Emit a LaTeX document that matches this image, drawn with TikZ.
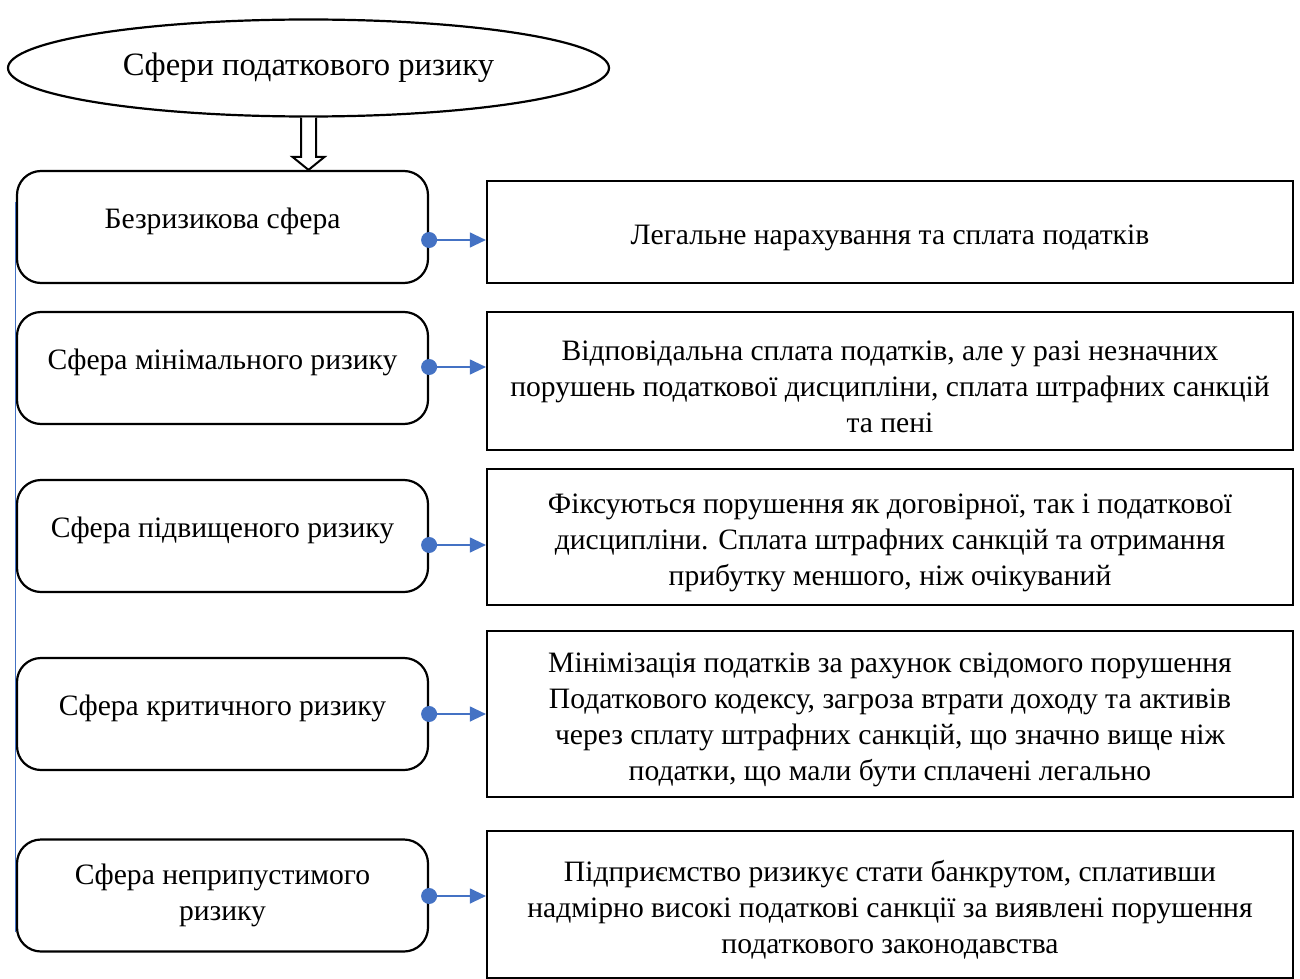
\documentclass[tikz,border=0pt]{standalone}
\usepackage{fontspec}
\setmainfont{Liberation Serif}
\usetikzlibrary{arrows.meta,shapes.geometric,calc}
\definecolor{linkblue}{HTML}{4472C4}
\definecolor{textdark}{HTML}{000000}

\begin{document}
\begin{tikzpicture}[x=0.5pt,y=-0.5pt,font=\fontsize{14.8}{18}\selectfont,text=textdark,
  sphere/.style={draw,line width=1.1pt,rounded corners=12pt,align=center,
    minimum width=205.5pt,minimum height=56pt,inner sep=2pt},
  outcome/.style={draw,line width=1.1pt,align=center,minimum width=403pt,inner sep=2pt},
  link/.style={linkblue,line width=0.6pt,-{Triangle[length=8pt,width=7.5pt]}},
  hollow/.style={draw,line width=1pt,fill=white}]
  \useasboundingbox (0,0) rectangle (1300,979);

  \node[draw,ellipse,line width=1.1pt,minimum width=300.5pt,minimum height=48.5pt,
    font=\fontsize{16.3}{19}\selectfont]
    (top) at (308.5,68) {Сфери податкового ризику};

  \foreach \i/\ly/\dep/\ry/\rh/\dy/\ltext/\rtext in {
    1/227/9.2/232/102/240/{Безризикова сфера}/{Легальне нарахування та сплата податків},
    2/368/9.2/381/138/367/{Сфера мінімального ризику}/{Відповідальна сплата податків, але у разі незначних\\порушень податкової дисципліни, сплата штрафних санкцій\\та пені},
    3/536/9.2/537/136/545/{Сфера підвищеного ризику}/{Фіксуються порушення як договірної, так і податкової\\дисципліни. Сплата штрафних санкцій та отримання\\прибутку меншого, ніж очікуваний},
    4/714/9.2/714/166/714/{Сфера критичного ризику}/{Мінімізація податків за рахунок свідомого порушення\\Податкового кодексу, загроза втрати доходу та активів\\через сплату штрафних санкцій, що значно вище ніж\\податки, що мали бути сплачені легально},
    5/895.5/3.2/904.5/147/896/{Сфера неприпустимого\\ризику}/{Підприємство ризикує стати банкрутом, сплативши\\надмірно високі податкові санкції за виявлені порушення\\податкового законодавства}} {
    \pgfmathsetmacro{\hh}{\rh/2}
    \node[sphere,text depth=\dep pt] (l\i) at (222.5,\ly) {\ltext};
    \node[outcome,minimum height=\hh pt] (r\i) at (890,\ry) {\rule{0pt}{15.5pt}\rtext};
    \coordinate (d\i) at (0,\dy);
    \draw[link] (l\i.east |- d\i) -- (r\i.west |- d\i);
    \fill[linkblue] (l\i.east |- d\i) circle (4pt);
  }

  % hollow arrow from the title down to the first sphere
  \coordinate (a0) at (top.south);
  \coordinate (a1) at (top.south |- l1.north);
  \draw[hollow] ($(a0)+(-3.75pt,0)$) -- ($(a1)+(-3.75pt,6.5pt)$) -- ($(a1)+(-8pt,6.5pt)$)
    -- (a1) -- ($(a1)+(8pt,6.5pt)$) -- ($(a1)+(3.75pt,6.5pt)$) -- ($(a0)+(3.75pt,0)$);

  \draw[linkblue,line width=0.5pt] ([yshift=-16pt]l1.north west) -- ([yshift=10.5pt]l5.south west);
\end{tikzpicture}
\end{document}
